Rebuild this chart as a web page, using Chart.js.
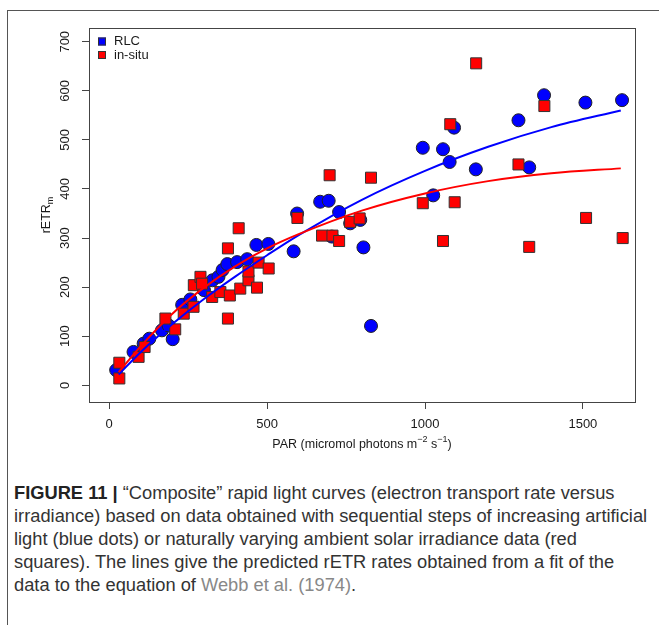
<!DOCTYPE html>
<html>
<head>
<meta charset="utf-8">
<script src="https://cdn.jsdelivr.net/npm/chart.js"></script>
<style>
body { margin: 0; background: #fff; width: 659px; height: 625px; overflow: hidden; position: relative; font-family: "Liberation Sans", Arial, sans-serif; }
#frame { position: absolute; left: 7px; top: 10px; width: 700px; height: 700px; border: 1px solid #555; }
#chartBox { position: absolute; left: 0; top: 0; width: 659px; height: 470px; }
#caption { position: absolute; left: 14px; top: 481px; font-size: 18.3px; line-height: 23px; color: #333; white-space: nowrap; }
#caption b { color: #222; }
#caption .ref { color: #888; }
</style>
</head>
<body>
<div id="frame"></div>
<div id="chartBox"><canvas id="rlcChart"></canvas></div>
<div id="caption">
<b>FIGURE 11 |</b> “Composite” rapid light curves (electron transport rate versus<br>
irradiance) based on data obtained with sequential steps of increasing artificial<br>
light (blue dots) or naturally varying ambient solar irradiance data (red<br>
squares). The lines give the predicted rETR rates obtained from a fit of the<br>
data to the equation of <span class="ref">Webb et al. (1974)</span>.
</div>
<script>
// Data
const rlcPar = [22, 77, 109, 127, 167, 188, 201, 231, 257, 300, 327, 346, 359, 374, 405, 437, 466, 504, 584, 595, 668, 695, 705, 728, 763, 795, 805, 829, 993, 1026, 1057, 1078, 1092, 1161, 1296, 1330, 1377, 1508, 1624];
const rlcEtr = [31, 68, 85, 95, 112, 122, 94, 164, 175, 194, 214, 221, 235, 247, 251, 257, 286, 288, 273, 350, 374, 376, 303, 353, 330, 337, 281, 121, 484, 387, 481, 455, 525, 440, 540, 444, 591, 576, 581];

const insituPar = [32, 32, 93, 112, 178, 209, 236, 268, 267, 289, 294, 326, 352, 376, 376, 382, 410, 415, 441, 441, 468, 473, 505, 596, 674, 698, 707, 728, 763, 793, 829, 993, 1057, 1080, 1094, 1162, 1296, 1330, 1378, 1510, 1626];
const insituEtr = [46, 14, 58, 78, 136, 114, 146, 204, 160, 221, 207, 180, 190, 279, 136, 183, 320, 197, 214, 232, 199, 250, 238, 341, 305, 428, 305, 294, 333, 340, 423, 371, 294, 532, 373, 656, 450, 282, 569, 341, 300];

// fitted curves (Webb et al.), read at a few PAR values
const fitPar = [30, 100, 200, 300, 400, 500, 600, 800, 1000, 1200, 1400, 1620];
const rlcFit = [22, 68, 125, 176, 222, 265, 306, 378, 437, 486, 526, 560];
const insituFit = [27, 80, 146, 199, 243, 279, 308, 356, 391, 416, 432, 442];

const xTicks = [0, 500, 1000, 1500];
const yTicks = [0, 100, 200, 300, 400, 500, 600, 700];

const legendItems = [
    { label: 'RLC', color: '#0000ff' },
    { label: 'in-situ', color: '#ff0000' }
];

const toPoints = (xs, ys) => xs.map((x, i) => ({ x: x, y: ys[i] }));

// Box, tick labels, axis titles and legend, R style
const rFrame = {
    id: 'rFrame',
    afterDraw(chart) {
        const ctx = chart.ctx;
        const ca = chart.chartArea;
        const xs = chart.scales.x;
        const ys = chart.scales.y;
        ctx.save();
        ctx.strokeStyle = '#444';
        ctx.lineWidth = 1;
        ctx.strokeRect(Math.round(ca.left) + 0.5, Math.round(ca.top) + 0.5,
            Math.round(ca.right - ca.left), Math.round(ca.bottom - ca.top));

        ctx.fillStyle = '#1a1a1a';
        ctx.font = '13px "Liberation Sans", Arial, sans-serif';
        ctx.textAlign = 'center';
        ctx.textBaseline = 'middle';
        xTicks.forEach(v => {
            ctx.fillText(String(v), xs.getPixelForValue(v), ca.bottom + 22);
        });
        yTicks.forEach(v => {
            ctx.save();
            ctx.translate(ca.left - 24, ys.getPixelForValue(v));
            ctx.rotate(-Math.PI / 2);
            ctx.fillText(String(v), 0, 0);
            ctx.restore();
        });

        // x title with superscripts
        const big = '12.5px "Liberation Sans", Arial, sans-serif';
        const small = '9px "Liberation Sans", Arial, sans-serif';
        const parts = [
            ['PAR (micromol photons m', big, 0],
            ['\u22122', small, -5],
            [' s', big, 0],
            ['\u22121', small, -5],
            [')', big, 0]
        ];
        let total = 0;
        parts.forEach(p => { ctx.font = p[1]; total += ctx.measureText(p[0]).width; });
        let px = (ca.left + ca.right) / 2 - total / 2;
        const ty = ca.bottom + 43;
        ctx.textAlign = 'left';
        parts.forEach(p => {
            ctx.font = p[1];
            ctx.fillText(p[0], px, ty + p[2]);
            px += ctx.measureText(p[0]).width;
        });

        // y title rETR_m
        ctx.save();
        ctx.translate(ca.left - 42, (ca.top + ca.bottom) / 2);
        ctx.rotate(-Math.PI / 2);
        ctx.font = big;
        const w1 = ctx.measureText('rETR').width;
        ctx.font = small;
        const w2 = ctx.measureText('m').width;
        ctx.font = big;
        ctx.fillText('rETR', -(w1 + w2) / 2, 0);
        ctx.font = small;
        ctx.fillText('m', -(w1 + w2) / 2 + w1, 4);
        ctx.restore();

        // legend
        ctx.font = '13px "Liberation Sans", Arial, sans-serif';
        legendItems.forEach((item, i) => {
            const cy = ca.top + 13.5 + i * 13.5;
            ctx.fillStyle = item.color;
            ctx.fillRect(98, cy - 4, 8, 8);
            ctx.strokeStyle = '#333';
            ctx.strokeRect(98.5, cy - 3.5, 7, 7);
            ctx.fillStyle = '#1a1a1a';
            ctx.fillText(item.label, 114, cy);
        });
        ctx.restore();
    }
};

const ctx = document.getElementById('rlcChart').getContext('2d');
new Chart(ctx, {
    type: 'scatter',
    data: {
        datasets: [
            {
                label: 'in-situ fit',
                data: toPoints(fitPar, insituFit),
                showLine: true,
                borderColor: '#ff0000',
                borderWidth: 2,
                pointRadius: 0,
                cubicInterpolationMode: 'monotone',
                order: 0
            },
            {
                label: 'RLC fit',
                data: toPoints(fitPar, rlcFit),
                showLine: true,
                borderColor: '#0000ff',
                borderWidth: 2,
                pointRadius: 0,
                cubicInterpolationMode: 'monotone',
                order: 1
            },
            {
                label: 'in-situ',
                data: toPoints(insituPar, insituEtr),
                pointStyle: 'rect',
                pointRadius: 7.8,
                backgroundColor: '#ff0000',
                borderColor: '#333',
                borderWidth: 1,
                clip: false,
                order: 2
            },
            {
                label: 'RLC',
                data: toPoints(rlcPar, rlcEtr),
                pointStyle: 'circle',
                pointRadius: 6.5,
                backgroundColor: '#0000ff',
                borderColor: '#222',
                borderWidth: 1,
                clip: false,
                order: 3
            }
        ]
    },
    options: {
        responsive: true,
        maintainAspectRatio: false,
        animation: false,
        layout: { padding: { left: 0, top: 28, right: 24, bottom: 0 } },
        plugins: {
            legend: { display: false },
            tooltip: { enabled: false }
        },
        scales: {
            x: {
                type: 'linear',
                min: -64,
                max: 1665,
                afterBuildTicks: s => { s.ticks = xTicks.map(v => ({ value: v })); },
                afterFit: s => { s.height = 68; },
                ticks: { display: false },
                border: { display: false },
                grid: { drawOnChartArea: false, tickLength: 7, color: '#444' }
            },
            y: {
                type: 'linear',
                min: -34,
                max: 728,
                afterBuildTicks: s => { s.ticks = yTicks.map(v => ({ value: v })); },
                afterFit: s => { s.width = 89; },
                ticks: { display: false },
                border: { display: false },
                grid: { drawOnChartArea: false, tickLength: 7, color: '#444' }
            }
        }
    },
    plugins: [rFrame]
});
</script>
</body>
</html>
